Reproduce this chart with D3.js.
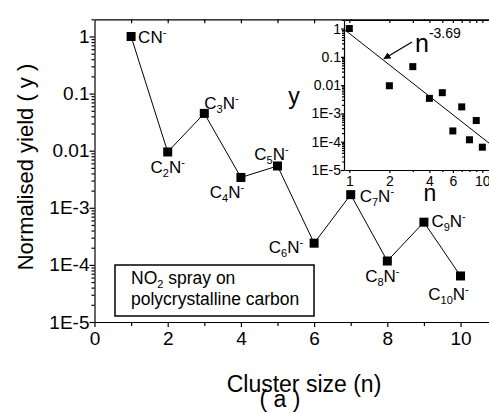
<!DOCTYPE html>
<meta charset="utf-8">
<style>
  html, body { margin: 0; padding: 0; background: #fff; }
  svg { display: block; }
  text { font-family: "Liberation Sans", Arial, sans-serif; fill: #000; }
  .axis path, .axis line { stroke: #000; stroke-width: 1.2px; }
  .link { fill: none; stroke: #000; stroke-width: 1px; }
</style>
<body>
<script src="https://d3js.org/d3.v7.min.js"></script>
<script>

  // cluster size n and normalised yield of CnN-
  var sizes  = [1, 2, 3, 4, 5, 6, 7, 8, 9, 10];
  var yields = [1, 0.0095, 0.045, 0.0034, 0.0054, 0.00024, 0.0017, 0.000117, 0.00056, 0.000064];
  var subs   = ["", "2", "3", "4", "5", "6", "7", "8", "9", "10"];

  var xTicks      = [0, 2, 4, 6, 8, 10];
  var xMinorTicks = [1, 3, 5, 7, 9];
  var yTicks      = [1, 0.1, 0.01, 1e-3, 1e-4, 1e-5];

  // inset: log-log with power law fit
  var insetXTicks      = [1, 2, 4, 6, 10];
  var insetXMinorTicks = [3, 5, 7, 8, 9];
  var fitA   = 0.67;
  var fitExp = -3.69;

  var width = 489, height = 412;

  var svg = d3.select("body").append("svg")
      .attr("width", width)
      .attr("height", height);

  var x = d3.scaleLinear().domain([0, 10.8]).range([94.5, 489.8]);
  var y = d3.scaleLog().domain([1e-5, 2]).range([322, 19.3]);

  function fmt(d) {
      if (d >= 0.01) return String(d);
      return "1E" + Math.round(Math.log10(d));
  }

  // minor ticks 2..9 for every decade
  var yMinor = [];
  yTicks.forEach(function(d) {
      for (var k = 2; k <= 9; k++) {
          if (d * k <= 2) yMinor.push(d * k);
      }
  });

  function styleAxis(g, size) {
      g.attr("class", "axis")
       .attr("font-size", size)
       .attr("font-family", '"Liberation Sans", Arial, sans-serif');
  }

  /* main axes */
  svg.append("g")
      .attr("transform", "translate(0," + y.range()[0] + ")")
      .call(d3.axisBottom(x).tickValues(xMinorTicks).tickSize(4).tickFormat(""))
      .call(g => g.select(".domain").remove())
      .call(g => styleAxis(g, 19));

  svg.append("g")
      .attr("transform", "translate(0," + y.range()[0] + ")")
      .call(d3.axisBottom(x).tickValues(xTicks).tickSize(5).tickSizeOuter(0).tickPadding(5).tickFormat(d3.format("d")))
      .call(g => styleAxis(g, 19));

  svg.append("g")
      .attr("transform", "translate(0," + y.range()[1] + ")")
      .call(d3.axisBottom(x).tickValues(d3.range(1, 11)).tickSize(4).tickSizeOuter(0).tickFormat(""))
      .call(g => styleAxis(g, 19));

  svg.append("g")
      .attr("transform", "translate(" + x.range()[0] + ",0)")
      .call(d3.axisLeft(y).tickValues(yMinor).tickSize(3).tickFormat(""))
      .call(g => g.select(".domain").remove())
      .call(g => styleAxis(g, 19));

  svg.append("g")
      .attr("transform", "translate(" + x.range()[0] + ",0)")
      .call(d3.axisLeft(y).tickValues(yTicks).tickSize(5).tickSizeOuter(0).tickPadding(0).tickFormat(fmt))
      .call(g => styleAxis(g, 19));

  /* axis titles */
  svg.append("text")
      .attr("transform", "translate(33," + 167 + ") rotate(-90)")
      .attr("text-anchor", "middle")
      .attr("font-size", 22)
      .text("Normalised yield ( y )");

  svg.append("text")
      .attr("x", 304).attr("y", 392)
      .attr("text-anchor", "middle")
      .attr("font-size", 23)
      .text("Cluster size (n)");

  svg.append("text")
      .attr("x", 280).attr("y", 407)
      .attr("text-anchor", "middle")
      .attr("font-size", 23)
      .text("( a )");

  /* text box */
  svg.append("rect")
      .attr("x", 115).attr("y", 265)
      .attr("width", 199).attr("height", 51)
      .attr("fill", "#fff").attr("stroke", "#000").attr("stroke-width", 1.5);

  var t1 = svg.append("text").attr("x", 131).attr("y", 284).attr("font-size", 17.5);
  t1.append("tspan").text("NO");
  t1.append("tspan").attr("dy", 4).attr("font-size", 11).text("2");
  t1.append("tspan").attr("dy", -4).text(" spray on");
  svg.append("text").attr("x", 131).attr("y", 305).attr("font-size", 17.5)
      .text("polycrystalline carbon");

  /* inset */
  var xi = d3.scaleLog().domain([0.912, 11.3]).range([344, 489.4]);
  var yi = d3.scaleLog().domain([1e-5, 2]).range([170, 20]);

  svg.append("rect")
      .attr("x", xi.range()[0]).attr("y", yi.range()[1])
      .attr("width", width - xi.range()[0] + 2)
      .attr("height", yi.range()[0] - yi.range()[1])
      .attr("fill", "#fff");

  svg.append("g")
      .attr("transform", "translate(0," + yi.range()[0] + ")")
      .call(d3.axisBottom(xi).tickValues(insetXMinorTicks).tickSize(2).tickFormat(""))
      .call(g => g.select(".domain").remove())
      .call(g => styleAxis(g, 14));

  svg.append("g")
      .attr("transform", "translate(0," + yi.range()[0] + ")")
      .call(d3.axisBottom(xi).tickValues(insetXTicks).tickSize(3).tickSizeOuter(0).tickPadding(3).tickFormat(d3.format("d")))
      .call(g => styleAxis(g, 14));

  svg.append("g")
      .attr("transform", "translate(0," + yi.range()[1] + ")")
      .call(d3.axisBottom(xi).tickValues(d3.range(1, 11)).tickSize(3).tickSizeOuter(0).tickFormat(""))
      .call(g => styleAxis(g, 14));

  svg.append("g")
      .attr("transform", "translate(" + xi.range()[0] + ",0)")
      .call(d3.axisLeft(yi).tickValues(yMinor).tickSize(2).tickFormat(""))
      .call(g => g.select(".domain").remove())
      .call(g => styleAxis(g, 14));

  svg.append("g")
      .attr("transform", "translate(" + xi.range()[0] + ",0)")
      .call(d3.axisLeft(yi).tickValues(yTicks).tickSize(3).tickSizeOuter(0).tickPadding(0).tickFormat(fmt))
      .call(g => styleAxis(g, 14));

  // fit line n^-3.69
  var fitLine = d3.line()
      .x(d => xi(d))
      .y(d => yi(fitA * Math.pow(d, fitExp)));
  svg.append("path")
      .datum(xi.domain())
      .attr("class", "link")
      .attr("d", fitLine);

  svg.selectAll(".imark")
      .data(sizes)
      .enter().append("rect")
      .attr("class", "imark")
      .attr("x", (d, i) => xi(d) - 3.5)
      .attr("y", (d, i) => yi(yields[i]) - 3.5)
      .attr("width", 7).attr("height", 7)
      .attr("fill", "#000");

  svg.append("defs").append("marker")
      .attr("id", "arrow")
      .attr("viewBox", "0 0 10 10")
      .attr("refX", 9).attr("refY", 5)
      .attr("markerWidth", 7).attr("markerHeight", 7)
      .attr("markerUnits", "userSpaceOnUse")
      .attr("orient", "auto")
      .append("path")
      .attr("d", "M0,0L10,5L0,10z")
      .attr("fill", "#000");

  var arrowN = xi.invert(384);
  svg.append("line")
      .attr("x1", 412).attr("y1", 42)
      .attr("x2", 384).attr("y2", yi(fitA * Math.pow(arrowN, fitExp)) - 2)
      .attr("stroke", "#000").attr("stroke-width", 1.2)
      .attr("marker-end", "url(#arrow)");

  var ft = svg.append("text").attr("x", 415).attr("y", 52).attr("font-size", 25);
  ft.append("tspan").text("n");
  ft.append("tspan").attr("dy", -14).attr("font-size", 14).text("-3.69");

  svg.append("text")
      .attr("x", 294).attr("y", 104)
      .attr("text-anchor", "middle")
      .attr("font-size", 23)
      .text("y");

  svg.append("text")
      .attr("x", 430).attr("y", 201)
      .attr("text-anchor", "middle")
      .attr("font-size", 23)
      .text("n");

  /* main series */
  var line = d3.line()
      .x(d => x(d[0]))
      .y(d => y(d[1]));

  svg.append("path")
      .datum(sizes.map((d, i) => [d, yields[i]]))
      .attr("class", "link")
      .attr("d", line);

  svg.selectAll(".mark")
      .data(sizes)
      .enter().append("rect")
      .attr("class", "mark")
      .attr("x", (d, i) => x(d) - 4.5)
      .attr("y", (d, i) => y(yields[i]) - 4.5)
      .attr("width", 9).attr("height", 9)
      .attr("fill", "#000");

  // label offsets from each point: dx, dy (baseline), anchor
  var labelPos = [
      [7, 6.5, "start"], [0, 21, "middle"], [0, -4.5, "start"], [-14, 21, "middle"],
      [-6, -6, "middle"], [-11, 10, "end"], [9, 7, "start"], [-5, 21, "middle"],
      [7.5, 5, "start"], [-12, 24, "middle"]
  ];

  var labels = svg.selectAll(".ion")
      .data(sizes)
      .enter().append("text")
      .attr("class", "ion")
      .attr("x", (d, i) => x(d) + labelPos[i][0])
      .attr("y", (d, i) => y(yields[i]) + labelPos[i][1])
      .attr("text-anchor", (d, i) => labelPos[i][2])
      .attr("font-size", 17);

  labels.each(function(d, i) {
      var t = d3.select(this);
      t.append("tspan").text("C");
      if (subs[i]) {
          t.append("tspan").attr("dy", 4).attr("font-size", 11).text(subs[i]);
          t.append("tspan").attr("dy", -4).text("N");
      } else {
          t.append("tspan").text("N");
      }
      t.append("tspan").attr("dy", -7).attr("font-size", 11).text("-");
  });

</script>
</body>
